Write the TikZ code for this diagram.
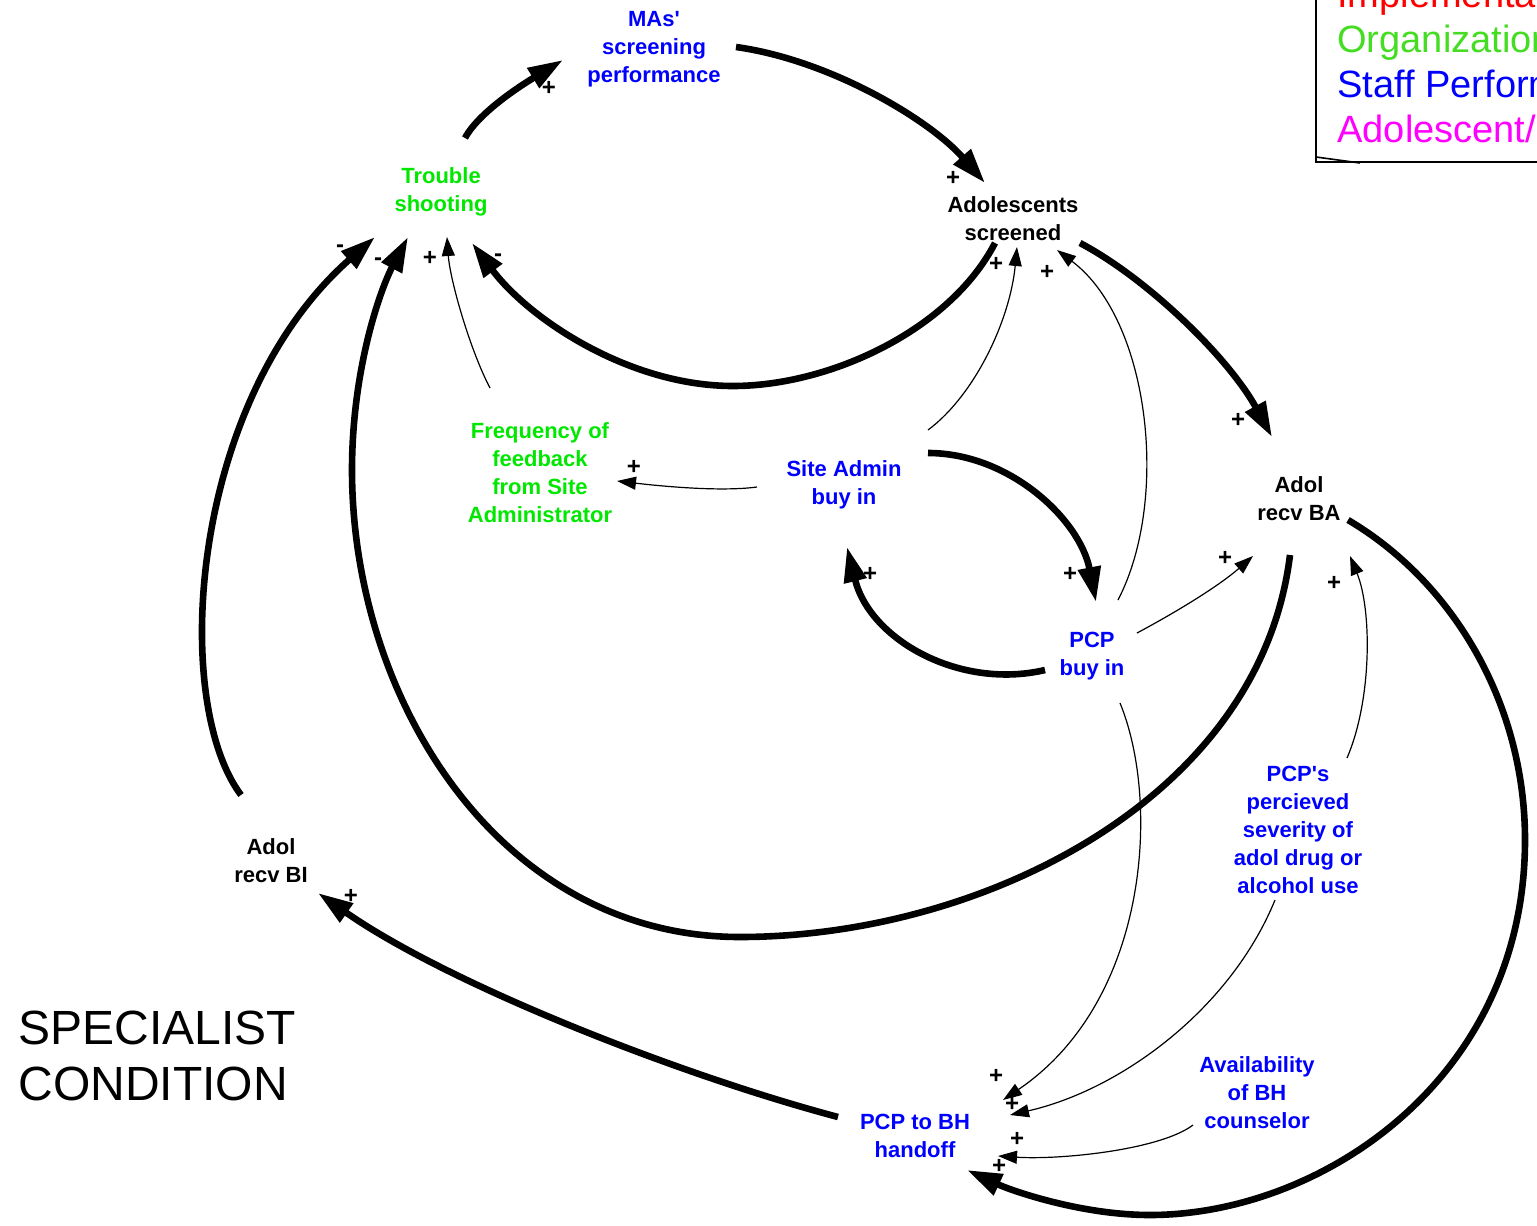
\documentclass[tikz,border=0pt]{standalone}
\usepackage{fontspec}
\setmainfont{Liberation Sans}
\newfontfamily\plainsans{Liberation Sans}
\usetikzlibrary{arrows.meta}
\definecolor{nblue}{RGB}{0,0,255}
\definecolor{ngreen}{RGB}{0,232,0}
\definecolor{lgreen}{RGB}{68,221,34}
\definecolor{lred}{RGB}{255,0,0}
\definecolor{lmag}{RGB}{255,0,255}
\begin{document}
\begin{tikzpicture}[x={(0.5pt,0)}, y={(0,-0.5pt)},
  var/.style={font=\plainsans\bfseries\fontsize{11}{14}\selectfont, align=center, inner sep=0pt},
  sign/.style={font=\bfseries\fontsize{12}{12}\selectfont, inner sep=0pt},
  legend/.style={font=\fontsize{19}{22}\selectfont, inner sep=0pt, anchor=base west},
  strong/.style={line width=3.3pt, -{Triangle[length=17.5pt,width=11pt]}},
  weak/.style={line width=0.6pt, -{Triangle[length=9.5pt,width=6.5pt]}},
]
\useasboundingbox (0,0) rectangle (1537,1226);
\fill[white] (0,0) rectangle (1537,1226);
\clip (0,0) rectangle (1537,1226);

% legend
\draw[line width=1pt] (1316,-10) -- (1316,162) -- (1545,162);
\draw[line width=0.8pt] (1316,157) -- (1360,163);
\node[legend, text=lred] (l1) at (1337,8) {Implementation};
\node[legend, text=lgreen] (l2) at (1337,53) {Organizational};
\node[legend, text=nblue] (l3) at (1337,97) {Staff Performance};
\node[legend, text=lmag] (l4) at (1337,142) {Adolescent/Parent};

% variables
\node[var, text=nblue] (mas) at (654,49) {MAs'\\screening\\performance};
\node[var, text=ngreen] (ts) at (441,192) {Trouble\\shooting};
\node[var] (as) at (1013,219) {Adolescents\\screened};
\node[var, text=ngreen] (freq) at (540,473) {Frequency of\\feedback\\from Site\\Administrator};
\node[var, text=nblue] (sa) at (844,485) {Site Admin\\buy in};
\node[var] (ba) at (1299,499) {Adol\\recv BA};
\node[var, text=nblue] (pcp) at (1092,656) {PCP\\buy in};
\node[var, text=nblue] (sev) at (1298,830) {PCP's\\percieved\\severity of\\adol drug or\\alcohol use};
\node[var] (bi) at (271,861) {Adol\\recv BI};
\node[var, text=nblue] (av) at (1257,1093) {Availability\\of BH\\counselor};
\node[var, text=nblue] (ho) at (915,1136) {PCP to BH\\handoff};
\node[anchor=north west, align=left, inner sep=0pt, font=\fontsize{24}{28}\selectfont] (cond) at (18,1011) {SPECIALIST\\CONDITION};

% thick links
\draw[strong] ([shift={(24,-54)}]ts.center) .. controls (480,110) and (530,80) .. ([shift={(-91,11)}]mas.center);
\draw[strong] ([shift={(82,-2)}]mas.center) .. controls (830,60) and (930,120) .. ([shift={(-28,-36)}]as.center);
\draw[strong] ([shift={(-18,24)}]as.center) .. controls (950,330) and (830,386) .. (733,386)
   .. controls (630,386) and (530,320) .. ([shift={(31,51)}]ts.center);
\draw[strong] ([shift={(67,24)}]as.center) .. controls (1150,280) and (1230,360) .. ([shift={(-27,-62)}]ba.center);
\draw[strong] ([shift={(-9,56)}]ba.center) .. controls (1260,800) and (980,937) .. (740,937)
   .. controls (500,937) and (352,700) .. (352,470)
   .. controls (352,370) and (380,290) .. ([shift={(-33,45)}]ts.center);
\draw[strong] ([shift={(-30,-66)}]bi.center) .. controls (170,700) and (190,400) .. ([shift={(-66,45)}]ts.center);
\draw[strong] ([shift={(84,-32)}]sa.center) .. controls (1010,453) and (1080,520) .. ([shift={(4,-54)}]pcp.center);
\draw[strong] ([shift={(-47,14)}]pcp.center) .. controls (960,690) and (870,640) .. ([shift={(3,62)}]sa.center);
\draw[strong] ([shift={(49,21)}]ba.center) .. controls (1450,580) and (1525,700) .. (1525,840)
   .. controls (1525,1080) and (1320,1215) .. (1150,1215)
   .. controls (1080,1215) and (1010,1190) .. ([shift={(52,34)}]ho.center);
\draw[strong] ([shift={(-77,-19)}]ho.center) .. controls (680,1075) and (450,985) .. ([shift={(47,32)}]bi.center);

% thin links
\draw[weak] ([shift={(-50,-85)}]freq.center) .. controls (470,350) and (450,280) .. ([shift={(6,45)}]ts.center);
\draw[weak] ([shift={(-87,2)}]sa.center) .. controls (720,492) and (660,486) .. ([shift={(77,8)}]freq.center);
\draw[weak] ([shift={(84,-55)}]sa.center) .. controls (975,395) and (1010,320) .. ([shift={(4,28)}]as.center);
\draw[weak] ([shift={(26,-56)}]pcp.center) .. controls (1170,500) and (1150,320) .. ([shift={(44,31)}]as.center);
\draw[weak] ([shift={(45,-23)}]pcp.center) .. controls (1180,610) and (1220,585) .. ([shift={(-46,57)}]ba.center);
\draw[weak] ([shift={(49,-72)}]sev.center) .. controls (1372,700) and (1372,610) .. ([shift={(51,57)}]ba.center);
\draw[weak] ([shift={(28,47)}]pcp.center) .. controls (1160,800) and (1150,1000) .. ([shift={(88,-36)}]ho.center);
\draw[weak] ([shift={(-23,70)}]sev.center) .. controls (1230,1010) and (1120,1090) .. ([shift={(95,-21)}]ho.center);
\draw[weak] ([shift={(-64,32)}]av.center) .. controls (1160,1150) and (1060,1160) .. ([shift={(83,20)}]ho.center);

% polarity signs
\node[sign] (p1) at (549,88) {+};
\node[sign] (p2) at (953,178) {+};
\node[sign] (p3) at (498,258) {-};
\node[sign] (p4) at (1238,420) {+};
\node[sign] (p5) at (378,262) {-};
\node[sign] (p6) at (340,249) {-};
\node[sign] (p7) at (430,258) {+};
\node[sign] (p8) at (634,467) {+};
\node[sign] (p9) at (996,264) {+};
\node[sign] (p10) at (1047,272) {+};
\node[sign] (p11) at (1070,574) {+};
\node[sign] (p12) at (870,574) {+};
\node[sign] (p13) at (1225,558) {+};
\node[sign] (p14) at (1334,583) {+};
\node[sign] (p15) at (999,1166) {+};
\node[sign] (p16) at (996,1076) {+};
\node[sign] (p17) at (1012,1104) {+};
\node[sign] (p18) at (1017,1139) {+};
\node[sign] (p19) at (351,896) {+};
\end{tikzpicture}
\end{document}
